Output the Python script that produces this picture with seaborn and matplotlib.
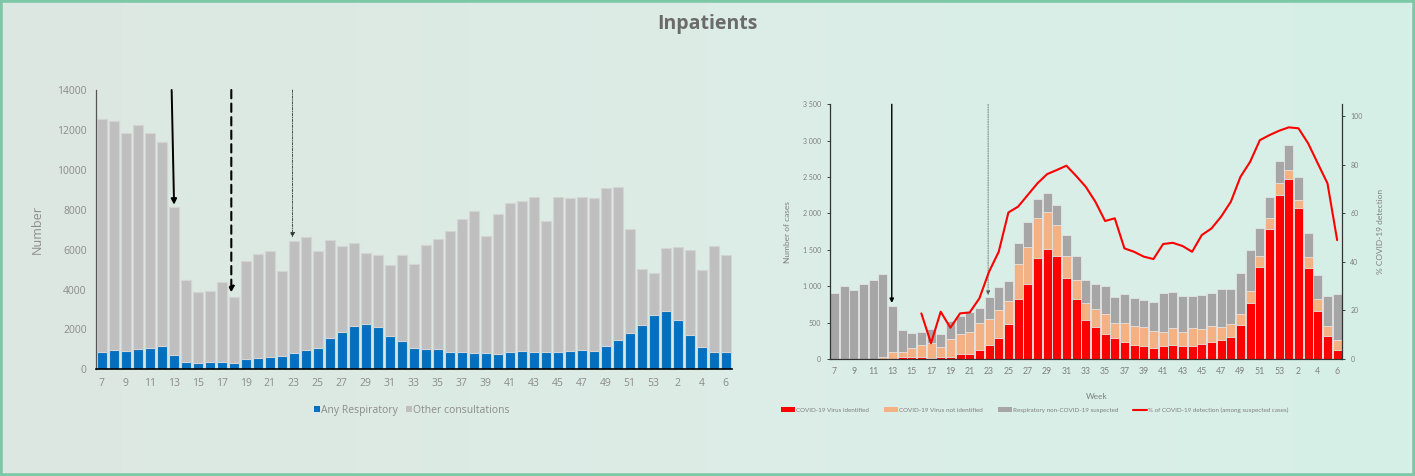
import numpy as np
import pandas as pd
import matplotlib
matplotlib.use("Agg")
from matplotlib import pyplot as plt
from matplotlib.patches import Patch, Rectangle
from matplotlib.lines import Line2D
from matplotlib.colors import LinearSegmentedColormap
from matplotlib.ticker import FuncFormatter
import seaborn as sns

# Weeks: 2020 wk 7 -> wk 53, then 2021 wk 1 -> wk 6
weeks = [str(w) for w in list(range(7, 54)) + list(range(1, 7))]

# Left panel: consultations (bar total) and the respiratory part
total_consult = [12530, 12430, 11850, 12250, 11830, 11380, 8120, 4480, 3890, 3940,
                 4390, 3630, 5450, 5760, 5950, 4950, 6450, 6610, 5950, 6500,
                 6200, 6350, 5850, 5750, 5250, 5750, 5300, 6250, 6550, 6950,
                 7550, 7950, 6700, 7800, 8350, 8450, 8650, 7450, 8650, 8600,
                 8650, 8600, 9100, 9150, 7050, 5050, 4850, 6100, 6150, 6000,
                 5000, 6200, 5750]
any_resp = [870, 970, 920, 1020, 1070, 1170, 720, 370, 320, 370,
            370, 320, 520, 570, 620, 670, 820, 970, 1070, 1570,
            1870, 2170, 2270, 2120, 1670, 1420, 1070, 1020, 1020, 870,
            870, 820, 820, 770, 870, 920, 870, 870, 870, 920,
            970, 920, 1170, 1470, 1820, 2220, 2720, 2920, 2470, 1700,
            1100, 850, 850]

# Right panel: inpatient cases
virus_identified = [0, 0, 0, 0, 0, 0, 5, 23, 23, 23,
                    9, 23, 23, 64, 64, 124, 192, 289, 476, 825,
                    1031, 1383, 1512, 1416, 1113, 825, 541, 444, 344, 284,
                    234, 197, 179, 147, 174, 197, 179, 183, 206, 238,
                    261, 307, 467, 770, 1269, 1787, 2254, 2474, 2075, 1246,
                    660, 321, 119]
virus_not_identified = [0, 0, 0, 0, 0, 32, 87, 78, 124, 169,
                        206, 142, 256, 280, 302, 366, 353, 380, 317, 476,
                        508, 550, 508, 426, 298, 256, 224, 248, 279, 215,
                        265, 261, 256, 233, 192, 229, 197, 243, 206, 220,
                        183, 169, 147, 169, 147, 146, 160, 128, 106, 151,
                        165, 137, 138]
non_covid_suspected = [902, 1003, 948, 1026, 1086, 1136, 641, 298, 210, 184,
                       193, 179, 239, 247, 275, 215, 307, 321, 279, 298,
                       339, 266, 266, 279, 298, 335, 321, 334, 380, 358,
                       390, 376, 376, 408, 536, 499, 490, 440, 463, 454,
                       513, 481, 563, 564, 389, 298, 312, 334, 320, 330,
                       325, 408, 632]

pct_weeks = [str(w) for w in list(range(16, 54)) + list(range(1, 7))]
pct_detection = [18.8, 6.5, 19.5, 12.9, 18.8, 19.2, 25.0, 36.0, 44.2, 60.4,
                 62.8, 67.6, 72.4, 76.2, 77.9, 79.7, 75.5, 71.0, 64.8, 56.9,
                 58.0, 45.6, 44.2, 42.2, 41.2, 47.4, 47.9, 46.6, 44.2, 51.1,
                 53.8, 58.7, 64.8, 75.1, 81.3, 90.2, 92.3, 94.1, 95.5, 95.1,
                 88.9, 80.6, 72.4, 49.0]

BG = "#DCEAE3"
TXT_L = "#8C8C8C"
TXT_R = "#7F7F7F"
CALIBRI = ["Lato", "DejaVu Sans"]

sns.set_style("white")
plt.rcParams["font.family"] = ["Open Sans", "DejaVu Sans"]

pos = np.arange(len(weeks))
df_l = pd.DataFrame({"pos": pos, "total": total_consult, "resp": any_resp})
df_r = pd.DataFrame({"pos": pos, "red": virus_identified,
                     "salmon": virus_not_identified, "grey": non_covid_suspected})
df_r["cum_salmon"] = df_r["red"] + df_r["salmon"]
df_r["cum_grey"] = df_r["cum_salmon"] + df_r["grey"]

fig = plt.figure(figsize=(14.15, 4.76), dpi=100, facecolor=BG)

# soft background gradient (greyish left -> mint right)
bg = fig.add_axes([0, 0, 1, 1], zorder=-10)
bg_cmap = LinearSegmentedColormap.from_list("bg", ["#DDE7E1", "#DCEDE6", "#D6F0E7"])
bg.imshow(np.linspace(0, 1, 256)[None, :], cmap=bg_cmap, aspect="auto", extent=(0, 1, 0, 1))
bg.axis("off")

fig.patches.append(Rectangle((0, 0), 1, 1, transform=fig.transFigure, fill=False,
                             edgecolor="#7CC7A6", linewidth=4, zorder=10))
fig.text(707.5 / 1415, 1 - 24 / 476, "Inpatients", ha="center", va="center",
         fontsize=14, fontweight="bold", color="#6B6B6B")

# ---------------- left panel ----------------
ax = fig.add_axes([95.7 / 1415, 1 - 369.3 / 476, 636 / 1415, 279.3 / 476])
ax.set_facecolor("none")
sns.barplot(data=df_l, x="pos", y="total", color="#BFBFBF", saturation=1, width=0.82,
            edgecolor="#D4D4D4", linewidth=0.8, ax=ax)
sns.barplot(data=df_l, x="pos", y="resp", color="#0070C0", saturation=1, width=0.82,
            edgecolor="#D4D4D4", linewidth=0.8, ax=ax)
ax.set_xlim(-0.5, len(weeks) - 0.5)
ax.set_ylim(0, 14000)
ax.set_yticks(range(0, 14001, 2000))
ax.set_xticks(pos[::2])
ax.set_xticklabels(weeks[::2])
ax.set_xticks(np.arange(-0.5, len(weeks)), minor=True)
ax.tick_params(axis="x", which="major", length=0, labelsize=7.5, labelcolor=TXT_L, pad=6)
ax.tick_params(axis="x", which="minor", length=4, width=0.8, color="black", direction="out")
ax.tick_params(axis="y", length=3, width=0.8, color="#555555", labelsize=7.5,
               labelcolor=TXT_L, direction="out")
for s in ["top", "right"]:
    ax.spines[s].set_visible(False)
ax.spines["left"].set_color("#555555")
ax.spines["left"].set_linewidth(0.9)
ax.spines["bottom"].set_color("black")
ax.spines["bottom"].set_linewidth(1.2)
ax.set_xlabel("")
ax.set_ylabel("Number", fontsize=9, color=TXT_L)
ax.yaxis.set_label_coords(-0.082, 0.5)

ax.annotate("", xy=(6.03, 8250), xytext=(5.83, 14000),
            arrowprops=dict(arrowstyle="-|>", color="black", lw=1.4, mutation_scale=8,
                            shrinkA=0, shrinkB=0), annotation_clip=False)
ax.annotate("", xy=(10.8, 3850), xytext=(10.8, 14000),
            arrowprops=dict(arrowstyle="-|>", color="black", lw=1.5, ls=(0, (4, 2.5)),
                            mutation_scale=8, shrinkA=0, shrinkB=0), annotation_clip=False)
ax.annotate("", xy=(15.9, 6620), xytext=(15.9, 14000),
            arrowprops=dict(arrowstyle="-|>", color="#333333", lw=0.6, ls=(0, (3, 1.5, 1, 1.5)),
                            mutation_scale=7, shrinkA=0, shrinkB=0), annotation_clip=False)

h_l = [Patch(facecolor="#0070C0", edgecolor="none"), Patch(facecolor="#BFBFBF", edgecolor="none")]
fig.legend(h_l, ["Any Respiratory", "Other consultations"], loc="center",
           bbox_to_anchor=(412 / 1415, 1 - 410 / 476), ncol=2, frameon=False,
           fontsize=7.5, labelcolor=TXT_L, handlelength=0.55, handleheight=0.55,
           handletextpad=0.1, columnspacing=0.8)

# ---------------- right panel ----------------
axr = fig.add_axes([829.5 / 1415, 1 - 359 / 476, 512.5 / 1415, 254.7 / 476])
axr.set_facecolor("none")
bar_kw = dict(saturation=1, width=0.93, edgecolor="#E4E4E4", linewidth=0.6, ax=axr)
sns.barplot(data=df_r, x="pos", y="cum_grey", color="#A6A6A6", **bar_kw)
sns.barplot(data=df_r, x="pos", y="cum_salmon", color="#F4B183", **bar_kw)
sns.barplot(data=df_r, x="pos", y="red", color="#FF0000", **bar_kw)
axr.set_xlim(-0.5, len(weeks) - 0.5)
axr.set_ylim(0, 3500)
axr.set_yticks(range(0, 3501, 500))
axr.yaxis.set_major_formatter(FuncFormatter(lambda v, p: f"{int(v):,}".replace(",", " ")))
axr.set_xticks(pos[::2])
axr.set_xticklabels(weeks[::2], family=CALIBRI)
axr.set_xticks(np.arange(-0.5, len(weeks)), minor=True)
axr.tick_params(axis="x", which="major", length=0, labelsize=6.3, labelcolor=TXT_R, pad=6)
axr.tick_params(axis="x", which="minor", length=3, width=0.7, color="black", direction="out")
axr.tick_params(axis="y", length=2.5, width=0.7, color="#404040", labelsize=5,
                labelcolor=TXT_R, direction="out")
for lab in axr.get_yticklabels():
    lab.set_family(CALIBRI)
axr.spines["top"].set_visible(False)
axr.spines["right"].set_visible(False)
for s in ["left", "bottom"]:
    axr.spines[s].set_color("#333333")
    axr.spines[s].set_linewidth(0.9)
axr.set_xlabel("Week", fontsize=6, color=TXT_R, family=CALIBRI)
axr.xaxis.set_label_coords(0.522, -0.134)
axr.set_ylabel("Number of cases", fontsize=6, color=TXT_R, family=CALIBRI)
axr.yaxis.set_label_coords(-0.075, 0.5)

axr.annotate("", xy=(5.94, 770), xytext=(5.94, 3500),
             arrowprops=dict(arrowstyle="-|>", color="black", lw=1.0, mutation_scale=6,
                             shrinkA=0, shrinkB=0), annotation_clip=False)
axr.annotate("", xy=(15.9, 880), xytext=(15.9, 3500),
             arrowprops=dict(arrowstyle="-|>", color="#555555", lw=0.5, ls=(0, (2, 1.5)),
                             mutation_scale=6, shrinkA=0, shrinkB=0), annotation_clip=False)

ax2 = axr.twinx()
line_pos = [weeks.index(w) for w in pct_weeks]
sns.lineplot(x=line_pos, y=pct_detection, color="#FF0000", linewidth=1.5, ax=ax2)
ax2.set_ylim(0, 105)
ax2.set_yticks(range(0, 101, 20))
ax2.tick_params(axis="y", length=2.5, width=0.7, color="#404040", labelsize=5,
                labelcolor=TXT_R, direction="out")
for lab in ax2.get_yticklabels():
    lab.set_family(CALIBRI)
for s in ["top", "left", "bottom"]:
    ax2.spines[s].set_visible(False)
ax2.spines["right"].set_color("#333333")
ax2.spines["right"].set_linewidth(0.9)
ax2.set_ylabel("% COVID-19 detection", fontsize=6, color=TXT_R, family=CALIBRI)
ax2.yaxis.set_label_coords(1.069, 0.5)

h_r = [Patch(facecolor="#FF0000", edgecolor="none"),
       Patch(facecolor="#F4B183", edgecolor="none"),
       Patch(facecolor="#A6A6A6", edgecolor="none"),
       Line2D([], [], color="#FF0000", lw=1.5)]
fig.legend(h_r, ["COVID-19 Virus identified", "COVID-19 Virus not identified",
                 "Respiratory non-COVID-19 suspected",
                 "% of COVID-19 detection (among suspected cases)"],
           loc="center", bbox_to_anchor=(1035 / 1415, 1 - 410 / 476), ncol=4, frameon=False,
           prop={"family": CALIBRI, "size": 4.5}, labelcolor=TXT_R,
           handlelength=2.24, handleheight=0.75, handletextpad=0.15, columnspacing=2.4)

fig.savefig("out.png", dpi=100, facecolor=BG)
